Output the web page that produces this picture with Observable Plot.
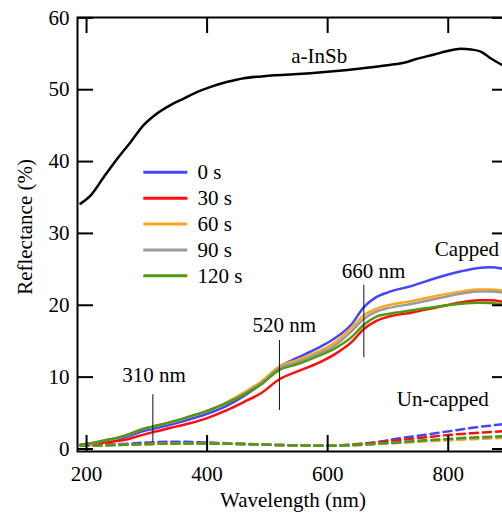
<!DOCTYPE html>
<html>
<head>
<meta charset="utf-8">
<script src="https://cdn.jsdelivr.net/npm/d3@7"></script>
<script src="https://cdn.jsdelivr.net/npm/@observablehq/plot@0.6"></script>
<style>
  html, body { margin: 0; padding: 0; overflow: hidden; background: #fff; }
</style>
</head>
<body>
<div id="chart"></div>
<script>
// Axis ticks
const xTicks = [200, 400, 600, 800];
const yTicks = [0, 10, 20, 30, 40, 50, 60];

// Annealing times and their colours
const seriesNames = ["0 s", "30 s", "60 s", "90 s", "120 s"];
const seriesColors = ["#4545ff", "#ff0d0d", "#ffa71c", "#9a9a9a", "#4f9a12"];

// Bare a-InSb film reflectance (%)
const inSbWave = [190, 207, 229, 251, 273, 295, 317, 340, 362, 384, 406, 434, 461, 490, 511, 544, 600, 655, 699, 733, 744, 777, 799, 821, 838, 854, 871, 885, 895];
const inSbRefl = [34.15, 35.3, 37.9, 40.4, 42.7, 45.1, 46.7, 47.9, 48.8, 49.7, 50.4, 51.1, 51.6, 51.85, 52.0, 52.15, 52.5, 52.95, 53.4, 53.9, 54.2, 54.9, 55.4, 55.7, 55.6, 55.3, 54.35, 53.65, 53.2];

// Capped samples (solid lines)
const cappedWave = [190, 210, 230, 250, 270, 290, 310, 340, 370, 400, 430, 460, 490, 520, 550, 580, 610, 640, 660, 680, 700, 740, 780, 820, 850, 870, 895];
const capped0s   = [0.6, 0.8, 1.0, 1.3, 1.8, 2.4, 2.8, 3.4, 4.1, 4.9, 5.9, 7.3, 9.1, 11.45, 12.7, 13.9, 15.3, 17.4, 19.75, 21.1, 21.8, 22.7, 23.8, 24.7, 25.2, 25.3, 25.0];
const capped30s  = [0.6, 0.7, 0.9, 1.1, 1.4, 1.9, 2.35, 2.95, 3.55, 4.3, 5.3, 6.5, 7.8, 9.7, 10.8, 11.8, 13.1, 14.9, 16.7, 17.8, 18.4, 19.0, 19.7, 20.4, 20.7, 20.7, 20.4];
const capped60s  = [0.6, 0.8, 1.2, 1.5, 2.0, 2.7, 3.1, 3.7, 4.5, 5.3, 6.4, 7.8, 9.4, 11.5, 12.4, 13.4, 14.7, 16.9, 18.6, 19.5, 20.0, 20.6, 21.3, 21.9, 22.2, 22.2, 22.0];
const capped90s  = [0.6, 0.8, 1.2, 1.5, 2.0, 2.7, 3.1, 3.7, 4.45, 5.25, 6.3, 7.6, 9.2, 11.25, 12.1, 13.1, 14.3, 16.4, 18.1, 19.1, 19.6, 20.2, 20.9, 21.6, 21.9, 21.9, 21.7];
const capped120s = [0.6, 0.85, 1.2, 1.55, 2.05, 2.7, 3.13, 3.75, 4.5, 5.3, 6.3, 7.5, 9.0, 11.0, 11.8, 12.8, 13.9, 15.6, 17.3, 18.4, 18.8, 19.3, 19.8, 20.2, 20.35, 20.3, 20.1];

// Un-capped samples (dashed lines)
const uncappedWave = [190, 230, 270, 310, 350, 400, 450, 500, 550, 600, 640, 680, 720, 760, 800, 840, 870, 895];
const uncapped0s   = [0.5, 0.6, 0.75, 0.95, 1.0, 0.9, 0.75, 0.6, 0.5, 0.45, 0.6, 0.95, 1.5, 1.95, 2.45, 2.95, 3.25, 3.5];
const uncapped30s  = [0.5, 0.55, 0.65, 0.75, 0.8, 0.8, 0.7, 0.6, 0.5, 0.5, 0.6, 0.9, 1.25, 1.6, 1.95, 2.2, 2.35, 2.5];
const uncapped60s  = [0.45, 0.5, 0.6, 0.7, 0.75, 0.75, 0.7, 0.6, 0.5, 0.45, 0.5, 0.65, 0.85, 1.05, 1.2, 1.35, 1.45, 1.55];
const uncapped90s  = [0.45, 0.5, 0.6, 0.7, 0.75, 0.75, 0.7, 0.6, 0.5, 0.45, 0.5, 0.7, 0.9, 1.15, 1.35, 1.5, 1.6, 1.7];
const uncapped120s = [0.45, 0.5, 0.6, 0.7, 0.75, 0.75, 0.7, 0.6, 0.5, 0.45, 0.55, 0.75, 0.95, 1.2, 1.4, 1.6, 1.7, 1.8];

// Wavelength markers
const markerWave   = [310, 520, 660];
const markerLow    = [0.95, 5.36, 12.7];
const markerHigh   = [7.55, 15.1, 22.8];
const markerLabels = ["310 nm", "520 nm", "660 nm"];
const markerLabelX = [312, 528, 676];
const markerLabelY = [10.3, 17.2, 24.7];

// Curve group labels
const groupLabels = ["a-InSb", "Capped", "Un-capped"];
const groupLabelX = [586, 831, 791];
const groupLabelY = [54.65, 27.8, 6.85];

// Legend placement (data units)
const legendX1 = 295, legendX2 = 368, legendTextX = 384;
const legendY = [38.5, 34.9, 31.3, 27.7, 24.1];

const cappedSets = [capped0s, capped30s, capped60s, capped90s, capped120s];
const uncappedSets = [uncapped0s, uncapped30s, uncapped60s, uncapped90s, uncapped120s];

const rows = (wave, vals) => wave.map((w, i) => ({w, r: vals[i]}));

const SERIF = "'Liberation Serif', 'Times New Roman', 'DejaVu Serif', serif";
const FS = 21;
const W = 502, H = 514;
// the right-hand frame edge sits just past the visible area
const mL = 77, mR = -6, mT = 17, mB = 63;
const frameW = W - mL - mR, frameH = H - mT - mB;
const tickLen = 16;

const marks = [];

// dashed un-capped curves
uncappedSets.forEach((vals, i) => {
  marks.push(Plot.line(rows(uncappedWave, vals), {
    x: "w", y: "r", curve: "monotone-x",
    stroke: seriesColors[i], strokeWidth: 2.5, strokeDasharray: "8,5"
  }));
});

// solid capped curves
cappedSets.forEach((vals, i) => {
  marks.push(Plot.line(rows(cappedWave, vals), {
    x: "w", y: "r", curve: "monotone-x",
    stroke: seriesColors[i], strokeWidth: 2.5
  }));
});

// a-InSb curve
marks.push(Plot.line(rows(inSbWave, inSbRefl), {
  x: "w", y: "r", curve: "monotone-x", stroke: "black", strokeWidth: 2.5
}));

// wavelength marker lines and labels
marks.push(Plot.ruleX(markerWave, {
  x: d => d, y1: (d, i) => markerLow[i], y2: (d, i) => markerHigh[i],
  stroke: "#111", strokeWidth: 1
}));
marks.push(Plot.text(markerLabels, {
  x: (d, i) => markerLabelX[i], y: (d, i) => markerLabelY[i], text: d => d,
  fill: "black", fontSize: FS
}));
marks.push(Plot.text(groupLabels, {
  x: (d, i) => groupLabelX[i], y: (d, i) => groupLabelY[i], text: d => d,
  fill: "black", fontSize: FS
}));

// legend
seriesNames.forEach((name, i) => {
  marks.push(Plot.ruleY([legendY[i]], {
    y: d => d, x1: legendX1, x2: legendX2, stroke: seriesColors[i], strokeWidth: 3
  }));
});
marks.push(Plot.text(seriesNames, {
  x: legendTextX, y: (d, i) => legendY[i], text: d => d,
  textAnchor: "start", fill: "black", fontSize: FS
}));

// frame and inward ticks on all four sides
marks.push(Plot.frame({stroke: "black", strokeWidth: 2}));
marks.push(Plot.ruleX(xTicks, {x: d => d, insetTop: frameH - tickLen, stroke: "black", strokeWidth: 2}));
marks.push(Plot.ruleX(xTicks, {x: d => d, insetBottom: frameH - tickLen, stroke: "black", strokeWidth: 2}));
marks.push(Plot.ruleY(yTicks, {y: d => d, insetRight: frameW - tickLen, stroke: "black", strokeWidth: 2}));
marks.push(Plot.ruleY(yTicks, {y: d => d, insetLeft: frameW - tickLen, stroke: "black", strokeWidth: 2}));

// tick labels
marks.push(Plot.axisX(xTicks, {anchor: "bottom", tickSize: 0, tickPadding: 15, label: null, fontSize: FS}));
marks.push(Plot.axisY(yTicks, {anchor: "left", tickSize: 0, tickPadding: 8, label: null, fontSize: FS}));

// axis titles
marks.push(Plot.text(["Wavelength (nm)"], {
  frameAnchor: "bottom", lineAnchor: "middle", dy: 48.3, text: d => d,
  fill: "black", fontSize: FS
}));
marks.push(Plot.text(["Reflectance (%)"], {
  frameAnchor: "left", y: 30.9, dx: -52, rotate: -90,
  textAnchor: "middle", lineAnchor: "middle", text: d => d,
  fill: "black", fontSize: FS
}));

const chart = Plot.plot({
  width: W, height: H,
  marginLeft: mL, marginRight: mR, marginTop: mT, marginBottom: mB,
  x: {domain: [185, 900]},
  y: {domain: [-0.35, 60.05]},
  style: {fontSize: FS + "px", fontFamily: SERIF, color: "black", background: "white", overflow: "hidden"},
  marks
});
// serif face on every label
chart.setAttribute("font-family", SERIF);
d3.select(chart).selectAll("g").attr("font-family", null);
d3.select(chart).selectAll("text").style("font-family", SERIF);
document.getElementById("chart").appendChild(chart);
</script>
</body>
</html>
